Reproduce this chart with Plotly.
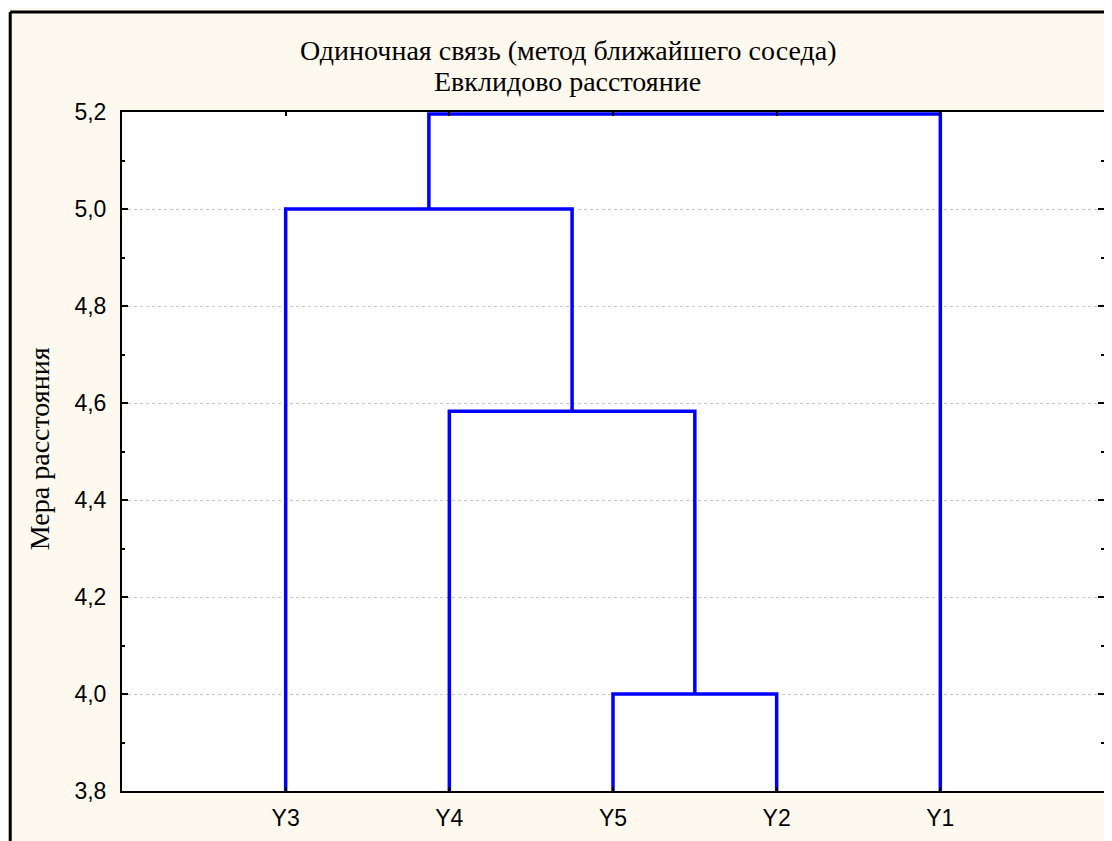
import plotly.graph_objects as go

# Data
leaf_labels = ["Y3", "Y4", "Y5", "Y2", "Y1"]
# merges: (left member, right member, height); members are leaf indices (0..4)
# or "c<k>" for the k-th merged cluster
merge_left = [2, 1, 0, "c2"]
merge_right = [3, "c0", "c1", 4]
merge_height = [4.0, 4.583, 5.0, 5.196]
y_ticks = [3.8, 4.0, 4.2, 4.4, 4.6, 4.8, 5.0, 5.2]

OFF = 8  # default page body margin
W, H = 1112 - OFF, 841 - OFF
L, T = 122 - OFF, 112 - OFF
R = W - (1106 - OFF)
B = H - (791 - OFF)
pw, ph = W - L - R, H - T - B


def px_x(x):
    return (x - OFF - L) / pw


def px_y(y):
    return 1 - (y - OFF - T) / ph


# leaf positions on category axis 1..n
pos = {}
hgt = {}
for i, lab in enumerate(leaf_labels):
    pos[i] = i + 1
    hgt[i] = y_ticks[0]

xs, ys = [], []
for k, (a, b, h) in enumerate(zip(merge_left, merge_right, merge_height)):
    xa, ya = pos[a], hgt[a]
    xb, yb = pos[b], hgt[b]
    xs += [xa, xa, xb, xb, None]
    ys += [ya, h, h, yb, None]
    key = "c%d" % k
    pos[key] = (xa + xb) / 2
    hgt[key] = h

fig = go.Figure()
fig.add_trace(go.Scatter(x=xs, y=ys, mode="lines",
                         line=dict(color="#0000FF", width=3.5),
                         hoverinfo="skip", showlegend=False))

tickfont = dict(family="Liberation Sans, Arial, sans-serif", size=23, color="black")
fig.update_layout(
    width=W, height=H,
    margin=dict(l=L, r=R, t=T, b=B, pad=0),
    paper_bgcolor="#FEF9EE",
    plot_bgcolor="white",
    separators=", ",
    showlegend=False,
    xaxis=dict(range=[0, len(leaf_labels) + 1],
               tickvals=list(range(1, len(leaf_labels) + 1)),
               ticktext=leaf_labels,
               ticks="inside", ticklen=4, tickwidth=2, tickcolor="black",
               showline=True, linecolor="black", linewidth=2, mirror="ticks",
               showgrid=False, zeroline=False, tickfont=tickfont,
               ticklabelstandoff=5),
    yaxis=dict(range=[y_ticks[0], y_ticks[-1]],
               tickvals=y_ticks, tickformat=".1f",
               ticks="inside", ticklen=6, tickwidth=2, tickcolor="black",
               showline=True, linecolor="black", linewidth=2, mirror="ticks",
               showgrid=True, gridcolor="#c8c8c8", gridwidth=1, griddash="dot",
               minor=dict(dtick=0.1, ticks="inside", ticklen=3, tickwidth=2,
                          tickcolor="black", showgrid=False),
               zeroline=False, tickfont=tickfont, ticklabelstandoff=9),
)

serif = dict(family="Liberation Serif, Times New Roman, serif", size=28, color="black")
fig.add_annotation(xref="paper", yref="paper", x=px_x(569), y=px_y(50),
                   text="Одиночная связь (метод ближайшего соседа)",
                   showarrow=False, font=serif, xanchor="center", yanchor="middle")
fig.add_annotation(xref="paper", yref="paper", x=px_x(568), y=px_y(82),
                   text="Евклидово расстояние",
                   showarrow=False, font=serif, xanchor="center", yanchor="middle")
fig.add_annotation(xref="paper", yref="paper", x=px_x(39), y=px_y(449), textangle=-90,
                   text="Мера расстояния", showarrow=False, font=serif,
                   xanchor="center", yanchor="middle")

# outer frame (left and top edges)
bx = px_x(10)
by = px_y(12)
fig.add_shape(type="line", xref="paper", yref="paper", x0=bx, x1=bx,
              y0=px_y(850), y1=by, line=dict(color="black", width=3))
fig.add_shape(type="line", xref="paper", yref="paper", x0=bx, x1=px_x(1120),
              y0=by, y1=by, line=dict(color="black", width=3))

fig.write_html("out.html")
